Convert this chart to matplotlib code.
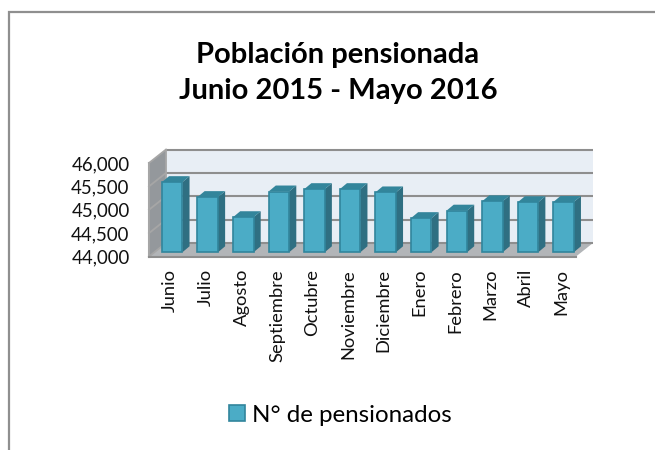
#!/usr/bin/env python3
# Poblacion pensionada: fake 3D column chart, Excel style
import matplotlib
matplotlib.use('Agg')
import matplotlib.pyplot as plt
from matplotlib.lines import Line2D
from matplotlib.patches import Patch, Polygon

W, H = 655, 450

months = ['Junio', 'Julio', 'Agosto', 'Septiembre', 'Octubre', 'Noviembre',
          'Diciembre', 'Enero', 'Febrero', 'Marzo', 'Abril', 'Mayo']
pensionados = [45500, 45180, 44750, 45300, 45350, 45350,
               45280, 44730, 44890, 45090, 45070, 45075]
y_ticks = [44000, 44500, 45000, 45500, 46000]
y_labels = ['44,000', '44,500', '45,000', '45,500', '46,000']
title = 'Población pensionada\nJunio 2015 - Mayo 2016'
legend_label = 'N° de pensionados'

plt.rcParams['font.family'] = ['Lato', 'DejaVu Sans']

fig = plt.figure(figsize=(W / 100, H / 100), dpi=100)

# axes = front edge of the floor
left, right, top, bottom = 149, 576, 163, 256.5
ax = fig.add_axes([left / W, 1 - bottom / H, (right - left) / W, (bottom - top) / H])
ax.set_xlim(0, len(months))
ax.set_ylim(y_ticks[0], y_ticks[-1])
ax.patch.set_visible(False)
for s in ax.spines.values():
    s.set_visible(False)

# pixel sizes to data units
px_x = len(months) / (right - left)
px_y = (y_ticks[-1] - y_ticks[0]) / (bottom - top)
depth_x = 17 * px_x
depth_y = 13.5 * px_y
x0, x1 = 0, len(months)
y0, y1 = y_ticks[0], y_ticks[-1]


def poly(pts, fc, ec='none', lw=0, z=1):
    ax.add_patch(Polygon(pts, closed=True, facecolor=fc, edgecolor=ec, linewidth=lw,
                         zorder=z, clip_on=False, joinstyle='round'))


# back wall, side wall, floor
poly([(x0 + depth_x, y0 + depth_y), (x1 + depth_x, y0 + depth_y),
      (x1 + depth_x, y1 + depth_y), (x0 + depth_x, y1 + depth_y)], '#E8EEF5')
poly([(x0, y0), (x0 + depth_x, y0 + depth_y), (x0 + depth_x, y1 + depth_y), (x0, y1)], '#94989C')
poly([(x0, y0), (x1, y0), (x1 + depth_x, y0 + depth_y), (x0 + depth_x, y0 + depth_y)], '#B2B5B8')

grid = '#8E8E8E'
for t in y_ticks:
    ax.plot([x0 + depth_x, x1 + depth_x], [t + depth_y, t + depth_y], color=grid, lw=1.5,
            zorder=2, clip_on=False, solid_capstyle='butt')
    ax.plot([x0, x0 + depth_x], [t, t + depth_y], color='#A6A6A6', lw=1.3, zorder=2,
            clip_on=False)
ax.plot([x0, x0], [y0, y1], color='#A6A6A6', lw=1.5, zorder=2, clip_on=False)
ax.plot([x0 + depth_x] * 2, [y0 + depth_y, y1 + depth_y], color='#A6A6A6', lw=1.3, zorder=2,
        clip_on=False)
ax.plot([x0, x1], [y0, y0], color='#8E8E8E', lw=1.5, zorder=2, clip_on=False)

# columns: front face through ax.bar, side and top built from the same values
bar_w = 20.5 * px_x
base_dx = 5.3 * px_x
base_dy = 4.2 * px_y
side_dx = 7.2 * px_x
side_dy = 6 * px_y
edge = '#31859C'
for i, v in enumerate(pensionados):
    xc = i + 0.5 + base_dx
    xl, xr = xc - bar_w / 2, xc + bar_w / 2
    yb = y0 + base_dy
    yt = v + base_dy  # the column plane sits a bit behind the front of the floor
    poly([(xr, yb), (xr + side_dx, yb + side_dy), (xr + side_dx, yt + side_dy), (xr, yt)],
         '#2F6F82', z=3)
    poly([(xl, yt), (xr, yt), (xr + side_dx, yt + side_dy), (xl + side_dx, yt + side_dy)],
         '#33859B', z=3)
    ax.bar(xc, yt - yb, width=bar_w, bottom=yb, color='#4BACC6', edgecolor=edge,
           linewidth=1.2, zorder=4, clip_on=False)

ax.set_yticks(y_ticks)
ax.set_yticklabels(y_labels, fontsize=13.4, color='#111111')
ax.tick_params(axis='y', length=0, pad=14)
ax.set_xticks([i + 0.5 + 3.5 * px_x for i in range(len(months))])
ax.set_xticklabels(months, rotation=90, fontsize=13.2, color='#111111')
ax.tick_params(axis='x', length=0, pad=9)

fig.text(338 / W, 1 - 73 / H, title, ha='center', va='center', fontsize=21,
         fontweight='bold', color='black', linespacing=1.48)

leg = fig.legend(handles=[Patch(facecolor='#4BACC6', edgecolor=edge, linewidth=1.2, label=legend_label)],
                 loc='center', bbox_to_anchor=(340.5 / W, 1 - 415 / H), frameon=False,
                 fontsize=17.4, handlelength=0.63, handleheight=0.63, handletextpad=0.3)

# outer chart border, only top and left are inside the crop
fig.add_artist(Line2D([8.5 / W, 8.5 / W, 1], [0, 1 - 12 / H, 1 - 12 / H], color='#8F8F8F', lw=1.6,
                      transform=fig.transFigure, solid_joinstyle='miter'))

fig.savefig('out.png', dpi=100)
